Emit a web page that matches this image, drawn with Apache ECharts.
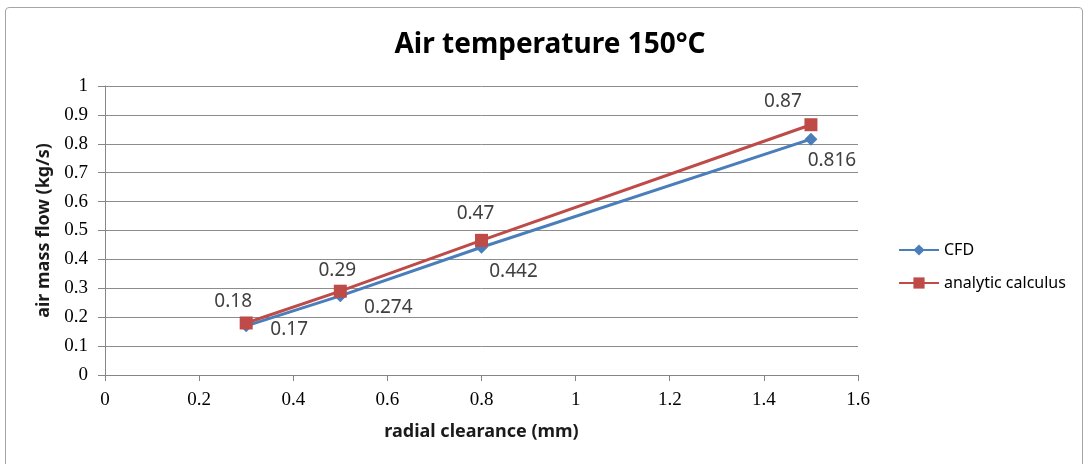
<!DOCTYPE html>
<html>
<head>
<meta charset="utf-8">
<script src="https://cdn.jsdelivr.net/npm/echarts@6/dist/echarts.min.js"></script>
<style>
  html, body { margin: 0; padding: 0; background: #fff; }
  #frame { position: absolute; left: 5px; top: 7px; width: 1076px; height: 480px; border: 1px solid #a6a6a6; border-radius: 4px; }
  #chart { position: absolute; left: 0; top: 0; width: 1088px; height: 464px; }
</style>
</head>
<body>
<div id="frame"></div>
<div id="chart"></div>
<script>
var clearance = [0.3, 0.5, 0.8, 1.5];
var cfd = [0.17, 0.274, 0.442, 0.816];
var analytic = [0.18, 0.29, 0.466, 0.866];
var seriesNames = ['CFD', 'analytic calculus'];

// where each data label sits relative to its point (as Excel placed them)
var cfdLabelOffsets = [[43, 4], [48, 12], [32, 24], [21, 21]];
var analyticLabelOffsets = [[-13, -21], [-3, -21], [-6, -27], [-28, -23]];

function points(xs, ys, offsets) {
	return xs.map(function (x, i) {
		return { value: [x, ys[i]], label: { offset: offsets[i] } };
	});
}

var myChart = echarts.init(document.getElementById('chart'));
window.addEventListener('resize', function () {
	myChart.resize();
});

var labelFont = 'Noto Sans';
var tickFont = '"Liberation Serif", serif';

myChart.setOption({
	title: {
		text: 'Air temperature 150°C',
		left: 545,
		textAlign: 'center',
		top: 26,
		textStyle: { fontFamily: labelFont, fontSize: 28, fontWeight: 'bold', color: '#000' }
	},
	legend: {
		orient: 'vertical',
		left: 893,
		top: 237,
		itemGap: 17,
		itemWidth: 40,
		itemHeight: 14,
		textStyle: { fontFamily: labelFont, fontSize: 16, color: '#000' },
		data: seriesNames
	},
	grid: { left: 105, right: 230, top: 86, bottom: 89 },
	xAxis: {
		type: 'value',
		min: 0, max: 1.6, interval: 0.2,
		name: 'radial clearance (mm)',
		nameLocation: 'middle',
		nameGap: 48,
		nameTextStyle: { fontFamily: labelFont, fontSize: 18, fontWeight: 'bold', color: '#1a1a1a' },
		axisLine: { lineStyle: { color: '#868686' } },
		axisTick: { show: true, length: 6, lineStyle: { color: '#868686' } },
		axisLabel: { fontFamily: tickFont, fontSize: 19, color: '#000', margin: 16 },
		splitLine: { show: false }
	},
	yAxis: {
		type: 'value',
		min: 0, max: 1, interval: 0.1,
		name: 'air mass flow (kg/s)',
		nameLocation: 'middle',
		nameGap: 46,
		nameTextStyle: { fontFamily: labelFont, fontSize: 18, fontWeight: 'bold', color: '#1a1a1a' },
		axisLine: { show: true, lineStyle: { color: '#868686' } },
		axisTick: { show: true, length: 7, lineStyle: { color: '#868686' } },
		axisLabel: {
			fontFamily: tickFont, fontSize: 19, color: '#000', margin: 17,
			formatter: function (v) { return String(Math.round(v * 10) / 10); }
		},
		splitLine: { lineStyle: { color: '#8c8c8c', width: 1 } }
	},
	series: [{
		name: seriesNames[0],
		type: 'line',
		data: points(clearance, cfd, cfdLabelOffsets),
		symbol: 'diamond',
		symbolSize: 13,
		color: '#4a7ebb',
		lineStyle: { width: 3 },
		z: 2,
		label: {
			show: true,
			position: 'inside',
			fontFamily: labelFont, fontSize: 19, color: '#404040',
			formatter: function (p) { return String(p.value[1]); }
		}
	}, {
		name: seriesNames[1],
		type: 'line',
		data: points(clearance, analytic, analyticLabelOffsets),
		symbol: 'rect',
		symbolSize: 13,
		color: '#be4b48',
		lineStyle: { width: 3 },
		z: 3,
		label: {
			show: true,
			position: 'inside',
			fontFamily: labelFont, fontSize: 19, color: '#404040',
			formatter: function (p) { return p.value[1].toFixed(2); }
		}
	}]
});
</script>
</body>
</html>
